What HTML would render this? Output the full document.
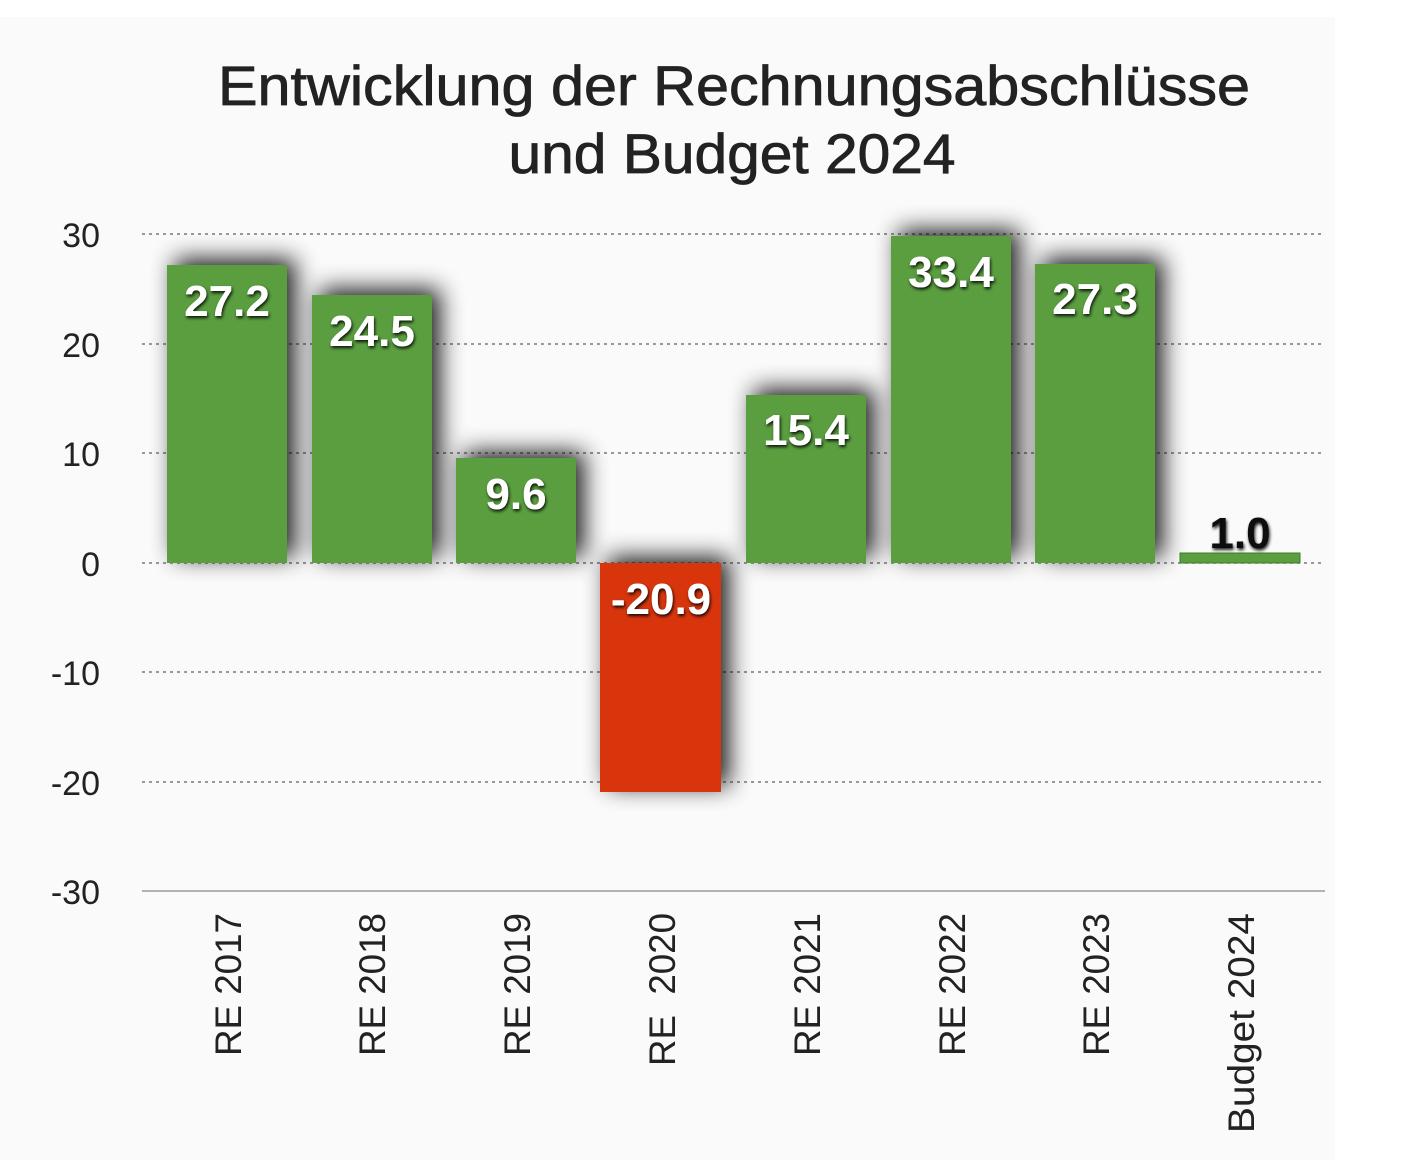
<!DOCTYPE html>
<html><head><style>
html,body{margin:0;padding:0;background:#fff;}
svg{display:block;font-family:"Liberation Sans",sans-serif;}
</style></head><body>
<svg width="1428" height="1160" viewBox="0 0 1428 1160" xmlns="http://www.w3.org/2000/svg">
<defs>
<filter id="sh" x="-50%" y="-50%" width="200%" height="200%">
<feGaussianBlur in="SourceAlpha" stdDeviation="12"/>
<feOffset dx="8" dy="-6" result="b"/>
<feComponentTransfer><feFuncA type="linear" slope="0.9"/></feComponentTransfer>
<feMerge><feMergeNode/><feMergeNode in="SourceGraphic"/></feMerge>
</filter>
<filter id="ts" x="-10%" y="-10%" width="130%" height="140%">
<feGaussianBlur in="SourceAlpha" stdDeviation="1.5"/>
<feOffset dx="1" dy="2"/>
<feComponentTransfer><feFuncA type="linear" slope="0.9"/></feComponentTransfer>
<feMerge><feMergeNode/><feMergeNode in="SourceGraphic"/></feMerge>
</filter>
</defs>
<rect x="0" y="17" width="1335" height="1143" fill="#fafafa"/>
<g font-size="56" fill="#222" stroke="#222" stroke-width="0.8" text-anchor="middle">
<text x="734" y="105" textLength="1032" lengthAdjust="spacingAndGlyphs">Entwicklung der Rechnungsabschlüsse</text>
<text x="732" y="173" textLength="447" lengthAdjust="spacingAndGlyphs">und Budget 2024</text>
</g>
<g stroke="#777" stroke-width="1.5" stroke-dasharray="3,4">
<line x1="142" x2="1322" y1="234" y2="234"/>
<line x1="142" x2="1322" y1="344" y2="344"/>
<line x1="142" x2="1322" y1="453" y2="453"/>
<line x1="142" x2="1322" y1="563" y2="563"/>
<line x1="142" x2="1322" y1="672" y2="672"/>
<line x1="142" x2="1322" y1="782" y2="782"/>
</g>
<line x1="142" x2="1325" y1="891" y2="891" stroke="#999" stroke-width="1.5"/>
<g font-size="34" fill="#222" text-anchor="end">
<text x="100" y="247">30</text>
<text x="100" y="357">20</text>
<text x="100" y="466">10</text>
<text x="100" y="576">0</text>
<text x="100" y="685">-10</text>
<text x="100" y="795">-20</text>
<text x="100" y="904">-30</text>
</g>
<g filter="url(#sh)">
<rect x="167" y="265" width="120" height="298" fill="#5a9e40"/>
<rect x="312" y="295" width="120" height="268" fill="#5a9e40"/>
<rect x="456" y="458" width="120" height="105" fill="#5a9e40"/>
<rect x="600" y="563" width="121" height="229" fill="#d9340f"/>
<rect x="746" y="395" width="120" height="168" fill="#5a9e40"/>
<rect x="891" y="236" width="120" height="327" fill="#5a9e40"/>
<rect x="1035" y="264" width="120" height="299" fill="#5a9e40"/>
</g>
<rect x="1180" y="553" width="120" height="10" fill="#5a9e40" stroke="#3f7a2c" stroke-width="1"/>
<g font-size="44" font-weight="bold" fill="#fff" text-anchor="middle" filter="url(#ts)">
<text x="227" y="316">27.2</text>
<text x="372" y="346">24.5</text>
<text x="516" y="509">9.6</text>
<text x="661" y="614">-20.9</text>
<text x="806" y="445">15.4</text>
<text x="951" y="287">33.4</text>
<text x="1095" y="314">27.3</text>
<text x="1240" y="548" fill="#111">1.0</text>
</g>
<g font-size="37" fill="#222" text-anchor="start">
<text transform="translate(241,1056) rotate(-90)" textLength="143" lengthAdjust="spacingAndGlyphs">RE 2017</text>
<text transform="translate(385,1056) rotate(-90)" textLength="143" lengthAdjust="spacingAndGlyphs">RE 2018</text>
<text transform="translate(530,1056) rotate(-90)" textLength="143" lengthAdjust="spacingAndGlyphs">RE 2019</text>
<text transform="translate(675,1066) rotate(-90)" xml:space="preserve" textLength="153" lengthAdjust="spacingAndGlyphs">RE  2020</text>
<text transform="translate(820,1056) rotate(-90)" textLength="143" lengthAdjust="spacingAndGlyphs">RE 2021</text>
<text transform="translate(965,1056) rotate(-90)" textLength="143" lengthAdjust="spacingAndGlyphs">RE 2022</text>
<text transform="translate(1109,1056) rotate(-90)" textLength="143" lengthAdjust="spacingAndGlyphs">RE 2023</text>
<text transform="translate(1254,1133) rotate(-90)" textLength="220" lengthAdjust="spacingAndGlyphs">Budget 2024</text>
</g>
</svg>
</body></html>
